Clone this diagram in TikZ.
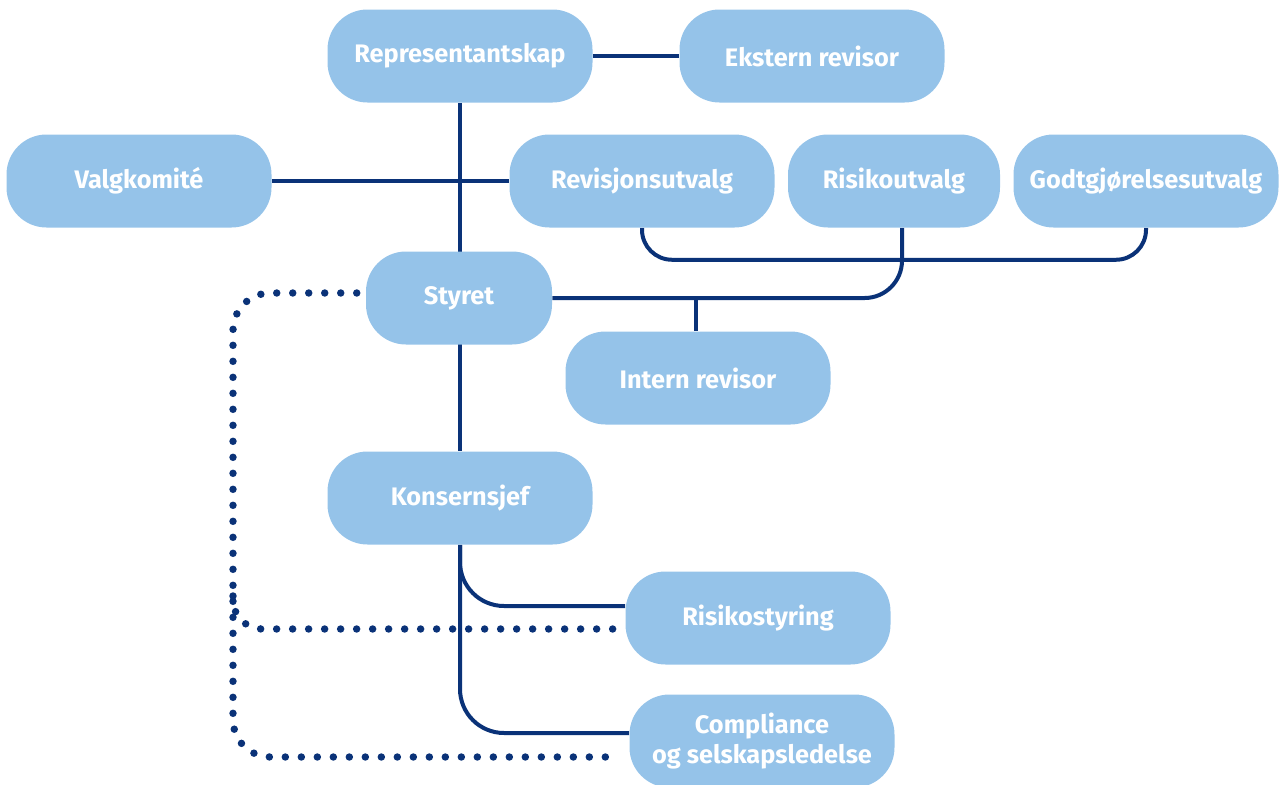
\documentclass[tikz,border=0pt]{standalone}
\usepackage{fontspec}
\setmainfont{Fira Sans}
\usetikzlibrary{calc,backgrounds}
\definecolor{pill}{HTML}{95C3E9}
\definecolor{navy}{HTML}{0A3278}
\begin{document}
\begin{tikzpicture}[x=0.75pt,y=-0.75pt,
  unit/.style={fill=pill, rounded corners=30pt, text=white, font=\fontsize{19}{22}\selectfont\bfseries,
    minimum width=198.75pt, minimum height=69.75pt, inner sep=0pt, align=center},
  link/.style={draw=navy, line width=3pt},
  dotline/.style={draw=navy, line width=5.6pt, line cap=round, dash pattern=on 0pt off 12pt, rounded corners=28pt}]
\useasboundingbox (0,0) rectangle (1279,785);

% organisation units
\node[unit] (rep) at (460,56) {Representantskap};
\node[unit] (ext) at (812,56) {Ekstern revisor};
\node[unit] (val) at (139,181) {Valgkomité};
\node[unit] (rev) at (642,181) {Revisjonsutvalg};
\node[unit, minimum width=159pt] (ris) at (894,181) {Risikoutvalg};
\node[unit] (god) at (1146,181) {Godtgjørelsesutvalg};
\node[unit, minimum width=139.5pt] (sty) at (459,298) {Styret};
\node[unit] (int) at (698,378) {Intern revisor};
\node[unit] (kon) at (460,498) {Konsernsjef};
\node[unit] (rsk) at (758,618) {Risikostyring};
\node[unit] (cmp) at (762,741) {Compliance\\og selskapsledelse};
\coordinate (spine) at (233,0);

\begin{scope}[on background layer]
  % reporting lines
  \draw[link] (rep.east) -- (ext.west);
  \draw[link] (rep.south) -- (kon.north);
  \draw[link] (val.east) -- (rev.west);
  \draw[link, rounded corners=22.5pt] (rev.south) |- ($(god.south)+(0,32)$) -- (god.south);
  \draw[link, rounded corners=28pt] ($(ris.south)+(8,0)$) |- (sty.east);
  \draw[link] ($(int.north)+(-2,0)$) -- ($(int.north |- sty.east)+(-2,0)$);
  \draw[link, rounded corners=33pt] (kon.south) |- ($(rsk.west)+(0,-12)$);
  \draw[link, rounded corners=33pt] (kon.south) |- ($(cmp.west)+(0,-8)$);
  % dotted lines
  \draw[dotline] ($(sty.west)+(-9,-5)$) -| ($(cmp.west -| spine)+(0,16)$) -- ($(cmp.west)+(-15,16)$);
  \draw[dotline, rounded corners=22pt] ($(spine |- rsk.west)+(0,-22)$) |- ($(rsk.west)+(-11,11)$);
\end{scope}
\end{tikzpicture}
\end{document}
